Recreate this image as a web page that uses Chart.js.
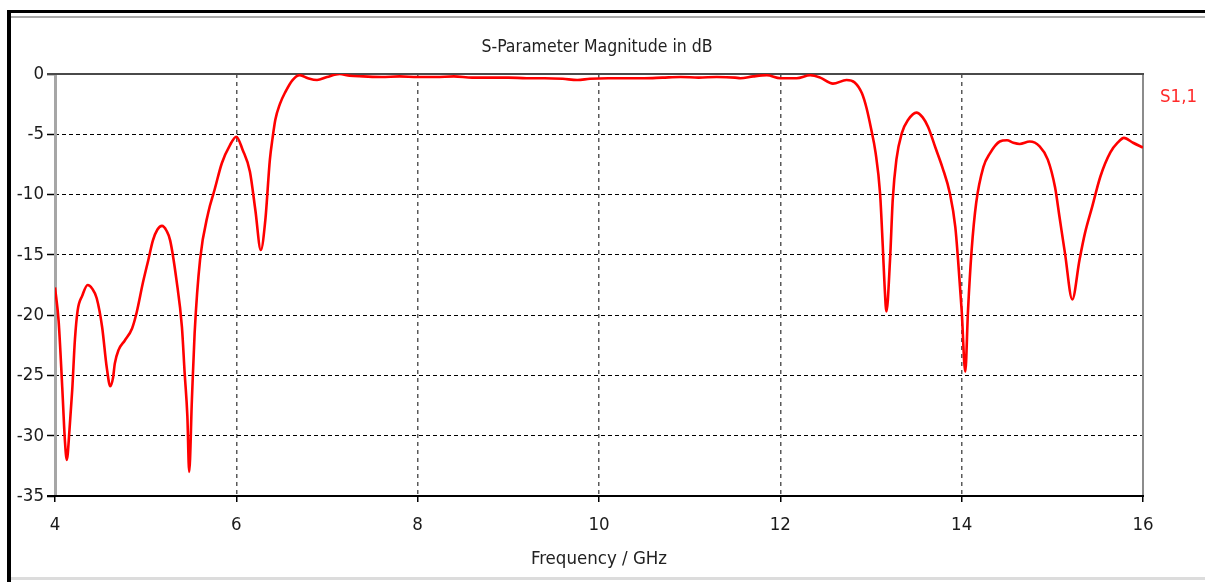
<!DOCTYPE html>
<html>
<head>
<meta charset="utf-8">
<title>S-Parameter Magnitude in dB</title>
<script src="https://cdn.jsdelivr.net/npm/chart.js@4/dist/chart.umd.min.js"></script>
<style>
  html, body { margin: 0; padding: 0; background: #fff; }
  #wrap { position: relative; width: 1205px; height: 582px; }
  canvas { display: block; }
</style>
</head>
<body>
<div id="wrap"><canvas id="c" width="1205" height="582"></canvas></div>
<script>
// Frequency sweep (GHz) and |S11| (dB)
const freqGHz = [
  4.00, 4.04, 4.08, 4.11, 4.13, 4.16, 4.19, 4.22, 4.25, 4.30,
  4.36, 4.41, 4.46, 4.52, 4.57, 4.61, 4.64, 4.66, 4.70, 4.77,
  4.85, 4.90, 4.97, 5.03, 5.08, 5.13, 5.18, 5.23, 5.27, 5.34,
  5.40, 5.43, 5.46, 5.48, 5.51, 5.54, 5.60, 5.69, 5.76, 5.84,
  5.93, 6.00, 6.07, 6.15, 6.21, 6.27, 6.32, 6.37, 6.40, 6.43,
  6.48, 6.54, 6.62, 6.70, 6.79, 6.89, 7.00, 7.14, 7.25, 7.40,
  7.60, 7.80, 8.00, 8.20, 8.40, 8.60, 8.80, 9.00, 9.20, 9.40,
  9.60, 9.76, 9.90, 10.10, 10.30, 10.50, 10.70, 10.90, 11.10, 11.30,
  11.50, 11.56, 11.70, 11.85, 12.00, 12.18, 12.33, 12.44, 12.58, 12.73,
  12.82, 12.90, 12.95, 13.00, 13.05, 13.10, 13.13, 13.15, 13.17, 13.21,
  13.24, 13.28, 13.34, 13.41, 13.50, 13.57, 13.63, 13.71, 13.79, 13.87,
  13.93, 13.96, 14.00, 14.04, 14.07, 14.11, 14.16, 14.24, 14.31, 14.42,
  14.50, 14.57, 14.64, 14.75, 14.86, 14.95, 15.03, 15.08, 15.14, 15.22,
  15.30, 15.36, 15.44, 15.53, 15.64, 15.72, 15.79, 15.89, 16.00
];
const s11dB = [
  -17.7, -20.5, -26.0, -30.5, -32.0, -29.5, -26.2, -22.0, -19.6, -18.4,
  -17.5, -17.8, -18.6, -21.0, -24.3, -25.9, -25.2, -24.0, -22.9, -22.1,
  -21.1, -19.8, -17.3, -15.4, -13.8, -12.9, -12.6, -13.0, -13.8, -17.1,
  -21.0, -24.8, -28.4, -33.0, -27.0, -21.5, -15.4, -11.5, -9.6, -7.4,
  -5.9, -5.2, -6.3, -8.1, -11.3, -14.6, -12.1, -7.1, -5.3, -3.8,
  -2.5, -1.5, -0.5, -0.1, -0.35, -0.5, -0.25, 0.0, -0.15, -0.2,
  -0.25, -0.2, -0.25, -0.25, -0.2, -0.3, -0.3, -0.3, -0.35, -0.35,
  -0.4, -0.5, -0.4, -0.35, -0.35, -0.35, -0.3, -0.25, -0.3, -0.25,
  -0.3, -0.35, -0.2, -0.1, -0.35, -0.35, -0.1, -0.3, -0.8, -0.5,
  -0.7, -1.6, -2.8, -4.5, -6.5, -9.9, -14.3, -17.6, -19.7, -15.4,
  -10.4, -7.1, -4.9, -3.8, -3.2, -3.6, -4.4, -6.1, -7.8, -9.9,
  -12.7, -15.4, -19.6, -24.7, -19.6, -14.6, -10.7, -7.7, -6.6, -5.6,
  -5.5, -5.7, -5.8, -5.6, -6.0, -7.1, -9.4, -11.9, -14.9, -18.7,
  -15.4, -13.2, -11.0, -8.5, -6.5, -5.7, -5.3, -5.7, -6.1
];

// Axis ticks
const xTicks = [4, 6, 8, 10, 12, 14, 16];
const yTicks = [0, -5, -10, -15, -20, -25, -30, -35];

const chartTitle = 'S-Parameter Magnitude in dB';
const xAxisTitle = 'Frequency / GHz';
const seriesName = 'S1,1';

const FONT = '"DejaVu Sans Condensed", "Liberation Sans", sans-serif';

// Frame, axis lines and captions drawn around the plot area
const framePlugin = {
  id: 'frame',
  beforeDatasetsDraw(chart) {
    const { ctx, chartArea: a } = chart;
    ctx.save();
    // left axis (gray)
    ctx.fillStyle = '#a6a6a6';
    ctx.fillRect(a.left - 1, a.top, 3, a.bottom - a.top);
    // right edge
    ctx.fillStyle = '#8c8c8c';
    ctx.fillRect(a.right - 1, a.top, 2, a.bottom - a.top);
    // top edge
    ctx.fillStyle = '#4a4a4a';
    ctx.fillRect(a.left - 8, a.top - 1, a.right - a.left + 9, 2);
    // bottom axis
    ctx.fillStyle = '#000';
    ctx.fillRect(a.left - 8, a.bottom - 1, a.right - a.left + 9, 2);
    ctx.restore();
  },
  afterDraw(chart) {
    const { ctx, chartArea: a } = chart;
    ctx.save();
    // window border
    ctx.fillStyle = '#000';
    ctx.fillRect(7, 10, 4, 572);
    ctx.fillRect(7, 10, 1198, 3);
    ctx.fillStyle = '#a9a9a9';
    ctx.fillRect(11, 16, 1194, 2);
    ctx.fillStyle = '#dcdcdc';
    ctx.fillRect(11, 577, 1194, 3);

    ctx.textAlign = 'center';
    ctx.textBaseline = 'middle';
    ctx.fillStyle = '#222';
    ctx.font = '17.5px ' + FONT;
    ctx.fillText(chartTitle, 597, 47);
    ctx.font = '18.5px ' + FONT;
    ctx.fillText(xAxisTitle, (a.left + a.right) / 2, 559);

    ctx.textAlign = 'left';
    ctx.fillStyle = '#ff2a2a';
    ctx.font = '18.5px ' + FONT;
    ctx.fillText(seriesName, 1160, 97);
    ctx.restore();
  }
};

const points = freqGHz.map((f, i) => ({ x: f, y: s11dB[i] }));

new Chart(document.getElementById('c'), {
  type: 'line',
  data: {
    datasets: [{
      label: seriesName,
      data: points,
      borderColor: '#ff0000',
      borderWidth: 2.6,
      pointRadius: 0,
      fill: false,
      cubicInterpolationMode: 'monotone'
    }]
  },
  options: {
    responsive: false,
    animation: false,
    events: [],
    layout: { padding: { top: 74, right: 62, left: 0, bottom: 0 } },
    plugins: { legend: { display: false }, title: { display: false }, tooltip: { enabled: false } },
    scales: {
      x: {
        type: 'linear',
        min: 4, max: 16,
        afterBuildTicks(s) { s.ticks = xTicks.map(v => ({ value: v })); },
        afterFit(s) { s.height = 86; },
        border: { display: false, dash: [4, 4] },
        grid: {
          color: c => (c.tick && (c.tick.value === 4 || c.tick.value === 16)) ? 'rgba(0,0,0,0)' : '#5a5a5a',
          lineWidth: 1.5,
          borderDash: [4, 4],
          tickColor: '#000',
          tickLength: 6,
          tickWidth: 1.5,
          tickBorderDash: []
        },
        ticks: {
          padding: 12,
          color: '#1a1a1a',
          font: { family: FONT, size: 18.5 },
          maxRotation: 0,
          autoSkip: false,
          callback: v => String(v)
        }
      },
      y: {
        type: 'linear',
        min: -35, max: 0,
        afterBuildTicks(s) { s.ticks = yTicks.map(v => ({ value: v })); },
        afterFit(s) { s.width = 55; },
        border: { display: false, dash: [4, 3] },
        grid: {
          color: c => (c.tick && (c.tick.value === 0 || c.tick.value === -35)) ? 'rgba(0,0,0,0)' : '#000',
          lineWidth: 1,
          borderDash: [4, 3],
          tickColor: '#000',
          tickLength: 8,
          tickWidth: 1.5,
          tickBorderDash: []
        },
        ticks: {
          padding: 3,
          color: '#1a1a1a',
          font: { family: FONT, size: 18.5 },
          autoSkip: false,
          callback: v => String(v)
        }
      }
    }
  },
  plugins: [framePlugin]
});
</script>
</body>
</html>
